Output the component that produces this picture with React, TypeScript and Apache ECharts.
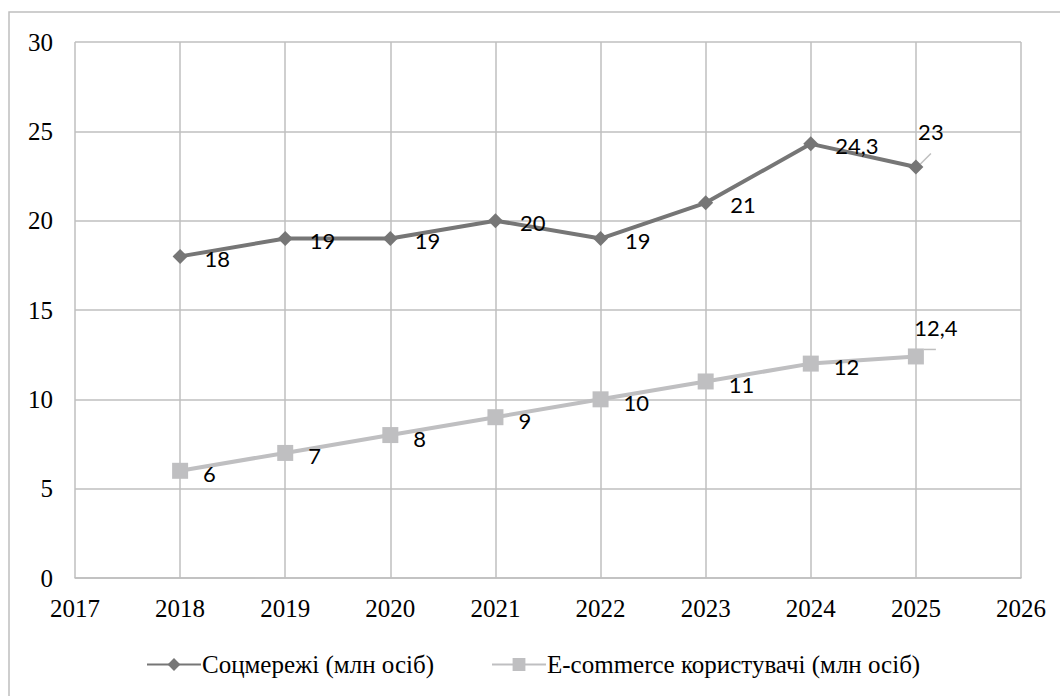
import React, { useEffect, useRef } from "react";
import * as echarts from "echarts";

const years = [2018, 2019, 2020, 2021, 2022, 2023, 2024, 2025];
const socialValues = [18, 19, 19, 20, 19, 21, 24.3, 23];
const ecommerceValues = [6, 7, 8, 9, 10, 11, 12, 12.4];
const seriesNames = ["Соцмережі (млн осіб)", "E-commerce користувачі (млн осіб)"];

const fmt = (v: number) => String(v).replace(".", ",");
const SANS = "Lato";
const SERIF = "Liberation Serif";

export default function App() {
  const ref = useRef<HTMLDivElement>(null);
  useEffect(() => {
    document.body.style.margin = "0";
    const chart = echarts.init(ref.current!, null, { renderer: "svg" });
    const labelFont = { fontFamily: SANS, fontSize: 22, color: "#000" };
    const socialData = years.map((y, i) => {
      const item: any = { value: [y, socialValues[i]] };
      if (i === years.length - 1) {
        item.label = { position: "top", distance: 17, offset: [15, 0] };
        item.labelLine = { show: true, lineStyle: { color: "#bfbfbf", width: 1.5 } };
      }
      return item;
    });
    const ecoData = years.map((y, i) => {
      const item: any = { value: [y, ecommerceValues[i]] };
      if (i === years.length - 1) {
        item.label = { position: "top", distance: 10, offset: [20, 0] };
        item.labelLine = { show: true, lineStyle: { color: "#bfbfbf", width: 1.5 } };
      }
      return item;
    });
    const legendText = { fontFamily: SERIF, fontSize: 25, color: "#000", padding: [0, 0, 0, -4] };
    chart.setOption({
      animation: false,
      grid: { left: 75, top: 42, width: 946, height: 536, containLabel: false },
      graphic: [
        {
          type: "rect",
          shape: { x: 9, y: 12, width: 1100, height: 760 },
          style: { fill: "none", stroke: "#bfbfbf", lineWidth: 1.5 },
          silent: true,
          z: -1,
        },
      ],
      legend: [
        {
          left: 141,
          top: 647,
          itemWidth: 54,
          itemHeight: 16,
          textStyle: legendText,
          data: [seriesNames[0]],
        },
        {
          left: 486,
          top: 647,
          itemWidth: 54,
          itemHeight: 16,
          textStyle: legendText,
          data: [seriesNames[1]],
        },
      ],
      xAxis: {
        type: "value",
        min: 2017,
        max: 2026,
        interval: 1,
        axisLine: { show: true, lineStyle: { color: "#bfbfbf", width: 1.5 } },
        axisTick: { show: false },
        splitLine: { show: true, lineStyle: { color: "#bfbfbf", width: 1.5 } },
        axisLabel: {
          formatter: (v: number) => String(v),
          fontFamily: SERIF,
          fontSize: 25,
          color: "#000",
          margin: 18,
        },
      },
      yAxis: {
        type: "value",
        min: 0,
        max: 30,
        interval: 5,
        axisLine: { show: false },
        axisTick: { show: false },
        splitLine: { show: true, lineStyle: { color: "#bfbfbf", width: 1.5 } },
        axisLabel: {
          fontFamily: SERIF,
          fontSize: 25,
          color: "#000",
          margin: 22,
        },
      },
      series: [
        {
          name: seriesNames[0],
          type: "line",
          data: socialData,
          symbol: "diamond",
          symbolSize: 15,
          itemStyle: { color: "#767676" },
          lineStyle: { color: "#767676", width: 4 },
          label: {
            show: true,
            position: "right",
            distance: 17,
            offset: [0, 2],
            formatter: (p: any) => fmt(p.value[1]),
            ...labelFont,
          },
        },
        {
          name: seriesNames[1],
          type: "line",
          data: ecoData,
          symbol: "rect",
          symbolSize: 16,
          itemStyle: { color: "#bfbfc1" },
          lineStyle: { color: "#bfbfc1", width: 4 },
          label: {
            show: true,
            position: "right",
            distance: 15,
            offset: [0, 3],
            formatter: (p: any) => fmt(p.value[1]),
            ...labelFont,
          },
        },
      ],
    });
    return () => chart.dispose();
  }, []);
  return <div ref={ref} style={{ width: 1060, height: 696 }} />;
}
